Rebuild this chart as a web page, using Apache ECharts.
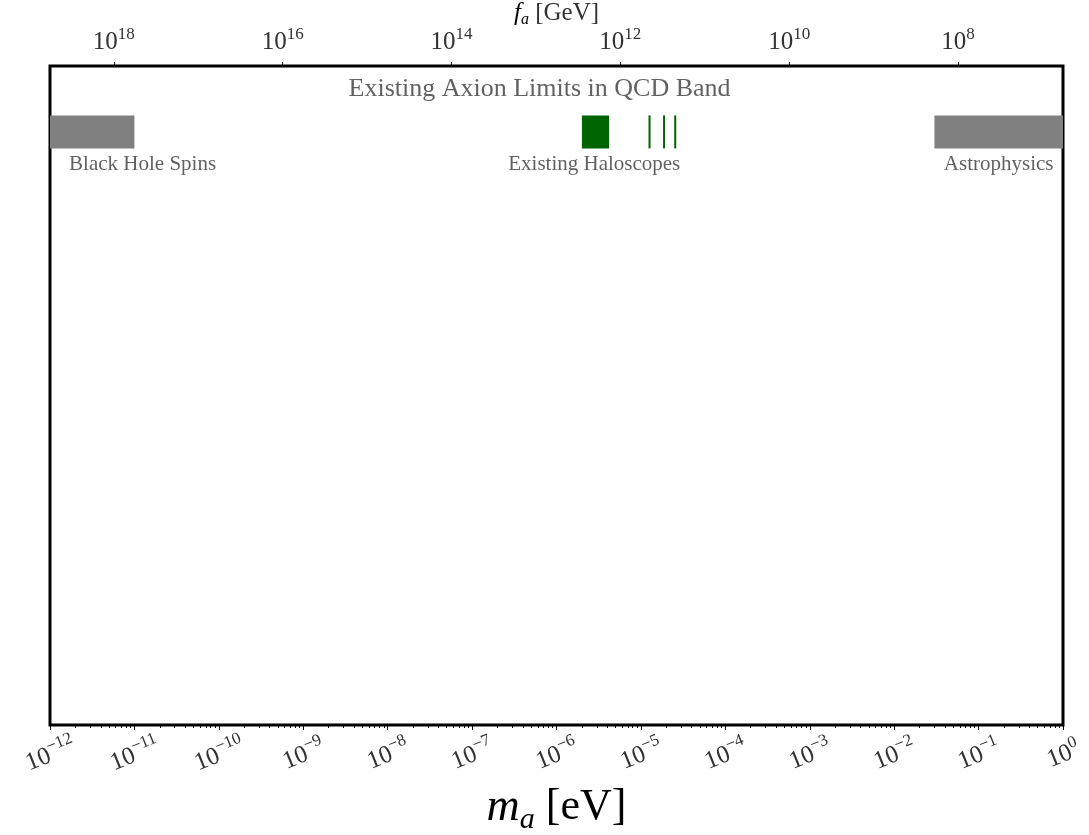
<!DOCTYPE html>
<html>
<head>
<meta charset="utf-8">
<script src="https://cdn.jsdelivr.net/npm/echarts@6/dist/echarts.min.js"></script>
<style>html,body{margin:0;padding:0;background:#fff}#chart{width:1089px;height:835px}</style>
</head>
<body>
<div id="chart"></div>
<script>
// ---- data ----
const FA_TIMES_MA = 5.7e6;            // f_a [GeV] * m_a [eV]
const massTickExps = [-12,-11,-10,-9,-8,-7,-6,-5,-4,-3,-2,-1,0];
const faTickExps = [18,16,14,12,10,8];
const greyNames = ['Black Hole Spins','Astrophysics'];
const greyLow  = [1e-12, 0.03];
const greyHigh = [1e-11, 1];
const haloLow  = [2.0e-6, 1.23e-5, 1.83e-5, 2.48e-5];
const haloHigh = [4.2e-6, 1.30e-5, 1.93e-5, 2.62e-5];
const bandBottom = 0.875, bandTop = 0.925;
const labelTexts = ['Existing Axion Limits in QCD Band','Black Hole Spins','Existing Haloscopes','Astrophysics'];
const labelMass  = [6.3e-7, 1.25e-11, 2.8e-6, 0.173];
const labelY     = [0.965, 0.85, 0.85, 0.85];

// ---- build ----
const FONT = 'Liberation Serif';
const TXT = '#333';
const lg = Math.log10;
const minorVals = [];
for (let e = -12; e < 0; e++) for (let k = 2; k <= 9; k++) minorVals.push(lg(k) + e);
const supFmt = e => '{b|10}{s|' + String(e).replace('-', '\u2212') + '}';
const richSup = {
  b: {fontSize: 25, fontFamily: FONT, color: TXT, lineHeight: 29, verticalAlign: 'bottom'},
  s: {fontSize: 17, fontFamily: FONT, color: TXT, lineHeight: 29, verticalAlign: 'top'}
};

const bandData = [];
greyLow.forEach((l, i) => bandData.push([lg(l), lg(greyHigh[i]), bandBottom, bandTop, '#808080']));
haloLow.forEach((l, i) => bandData.push([lg(l), lg(haloHigh[i]), bandBottom, bandTop, '#006400']));

const labelData = labelTexts.map((t, i) => ({name: t, value: [lg(labelMass[i]), labelY[i]],
  label: {fontSize: i === 0 ? 26 : 21}}));

const chart = echarts.init(document.getElementById('chart'), null, {renderer: 'canvas'});
chart.setOption({
  animation: false,
  backgroundColor: '#fff',
  grid: {left: 50, right: 26, top: 66, bottom: 110, outerBoundsMode: 'none', containLabel: false,
         show: true, borderColor: '#000', borderWidth: 3, backgroundColor: 'transparent'},
  xAxis: [
    {type: 'value', min: -12, max: 0, position: 'bottom', splitLine: {show: false},
     axisLine: {show: false},
     axisTick: {show: true, length: 5, inside: false, lineStyle: {color: '#000', width: 1}, customValues: massTickExps},
     axisLabel: {customValues: massTickExps, rotate: 22, margin: 28, align: 'center', verticalAlign: 'middle',
       formatter: v => supFmt(Math.round(v)), rich: richSup, hideOverlap: false},
     name: '{m|m}{a|a}{e| [eV]}', nameLocation: 'middle', nameGap: 60,
     nameTextStyle: {rich: {
       m: {fontSize: 46, fontStyle: 'italic', fontFamily: FONT, color: '#000', lineHeight: 50, verticalAlign: 'top'},
       a: {fontSize: 30, fontStyle: 'italic', fontFamily: FONT, color: '#000', lineHeight: 50, verticalAlign: 'bottom'},
       e: {fontSize: 44, fontFamily: FONT, color: '#000', lineHeight: 50, verticalAlign: 'top'}}}},
    {type: 'value', min: -12, max: 0, position: 'top', splitLine: {show: false}, axisLine: {show: false},
     axisTick: {show: true, length: 4, lineStyle: {color: '#000'}, customValues: faTickExps.map(k => lg(FA_TIMES_MA) - k)},
     axisLabel: {customValues: faTickExps.map(k => lg(FA_TIMES_MA) - k), margin: 11,
       formatter: v => supFmt(Math.round(lg(FA_TIMES_MA) - v)), rich: richSup, hideOverlap: false},
     name: '{f|f}{a|a}{e| [GeV]}', nameLocation: 'middle', nameGap: 38, nameMoveOverlap: false,
     nameTextStyle: {rich: {
       f: {fontSize: 25, fontStyle: 'italic', fontFamily: FONT, color: '#000', lineHeight: 27, verticalAlign: 'top'},
       a: {fontSize: 16, fontStyle: 'italic', fontFamily: FONT, color: '#000', lineHeight: 27, verticalAlign: 'bottom'},
       e: {fontSize: 25, fontFamily: FONT, color: TXT, lineHeight: 27, verticalAlign: 'top'}}}},
    {type: 'value', min: -12, max: 0, position: 'bottom', splitLine: {show: false}, axisLine: {show: false},
     axisTick: {show: true, length: 3, lineStyle: {color: '#000', width: 1}, customValues: minorVals},
     axisLabel: {show: false}}
  ],
  yAxis: {type: 'value', min: 0, max: 1, show: false},
  series: [
    {type: 'custom', xAxisIndex: 0, data: bandData, clip: true,
     renderItem: (params, api) => {
       const p0 = api.coord([api.value(0), api.value(3)]);
       const p1 = api.coord([api.value(1), api.value(2)]);
       return {type: 'rect', shape: {x: p0[0], y: p0[1], width: p1[0] - p0[0], height: p1[1] - p0[1]},
         style: {fill: bandData[params.dataIndex][4]}};
     }},
    {type: 'scatter', xAxisIndex: 0, symbolSize: 0, data: labelData, silent: true,
     label: {show: true, position: 'inside', formatter: p => p.name, fontFamily: FONT, color: '#3a3a3a'}}
  ]
});
</script>
</body>
</html>
